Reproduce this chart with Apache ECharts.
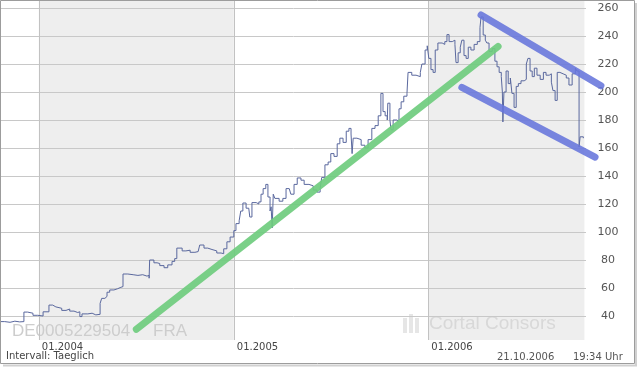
<!DOCTYPE html>
<html><head><meta charset="utf-8">
<script src="https://cdn.jsdelivr.net/npm/echarts@6/dist/echarts.min.js"></script>
<style>html,body{margin:0;padding:0;background:#fff}#c{width:640px;height:370px}</style>
</head><body><div id="c"></div>
<script>
// ---- data ----
const dates = [
'2003-10-22','2003-10-29','2003-11-08','2003-11-17','2003-11-26','2003-12-04','2003-12-11','2003-12-21','2003-12-30',
'2004-01-09','2004-01-20','2004-01-27','2004-02-02','2004-02-13','2004-02-21','2004-02-28','2004-03-07','2004-03-14',
'2004-03-18','2004-03-22','2004-04-02','2004-04-10','2004-04-17','2004-04-25','2004-04-28','2004-05-04','2004-05-08',
'2004-05-13','2004-05-21','2004-05-28','2004-06-03','2004-06-07','2004-06-16','2004-06-26','2004-07-05','2004-07-14',
'2004-07-22','2004-07-26','2004-07-27','2004-08-04','2004-08-10','2004-08-15','2004-08-23','2004-08-30','2004-09-07',
'2004-09-12','2004-09-16','2004-09-26','2004-10-03','2004-10-11','2004-10-20','2004-10-26','2004-10-29','2004-11-06',
'2004-11-13','2004-11-21','2004-11-30','2004-12-08','2004-12-13','2004-12-19','2004-12-25','2005-01-01','2005-01-05',
'2005-01-11','2005-01-14','2005-01-18','2005-01-24','2005-01-29','2005-01-31','2005-02-04','2005-02-12','2005-02-17',
'2005-02-21','2005-02-25','2005-03-02','2005-03-06','2005-03-10','2005-03-12','2005-03-14','2005-03-16','2005-03-19',
'2005-03-27','2005-04-03','2005-04-09','2005-04-15','2005-04-18','2005-04-24','2005-04-30','2005-05-07','2005-05-13',
'2005-05-22','2005-05-30','2005-06-06','2005-06-12','2005-06-15','2005-06-21','2005-06-27','2005-07-02','2005-07-08',
'2005-07-14','2005-07-19','2005-07-25','2005-07-31','2005-08-05','2005-08-09','2005-08-11','2005-08-13','2005-08-20',
'2005-08-28','2005-09-04','2005-09-10','2005-09-17','2005-09-23','2005-09-29','2005-10-04','2005-10-08','2005-10-12',
'2005-10-16','2005-10-17','2005-10-21','2005-10-23','2005-10-27','2005-11-03','2005-11-07','2005-11-11','2005-11-16',
'2005-11-22','2005-11-24','2005-12-01','2005-12-09','2005-12-17','2005-12-20','2005-12-26','2005-12-30','2006-01-02',
'2006-01-06','2006-01-10','2006-01-14','2006-01-19','2006-01-27','2006-02-01','2006-02-05','2006-02-09','2006-02-15',
'2006-02-20','2006-02-22','2006-02-26','2006-03-02','2006-03-05','2006-03-09','2006-03-13','2006-03-17','2006-03-22',
'2006-03-28','2006-04-03','2006-04-08','2006-04-10','2006-04-14','2006-04-18','2006-04-21','2006-04-25','2006-05-01',
'2006-05-06','2006-05-10','2006-05-14','2006-05-18','2006-05-20','2006-05-21','2006-05-23','2006-05-27','2006-05-31',
'2006-06-04','2006-06-07','2006-06-11','2006-06-15','2006-06-19','2006-06-24','2006-06-30','2006-07-04','2006-07-07',
'2006-07-11','2006-07-15','2006-07-19','2006-07-24','2006-07-30','2006-08-05','2006-08-10','2006-08-16','2006-08-20',
'2006-08-23','2006-08-27','2006-08-31','2006-09-05','2006-09-11','2006-09-17','2006-09-22','2006-09-28','2006-10-04',
'2006-10-07','2006-10-11','2006-10-13','2006-10-19'
];
const prices = [
36,35.5,36.3,35.8,36,42.8,42,40.5,40,
43,47.8,46.5,45.5,44,45,43.5,42.5,43,
39.6,41.5,42,40.8,41.2,49,52.6,54,57,
58.6,59.5,60.5,61,70,69.5,69,69.5,68.5,
69,67,80,78,77.5,76,74.5,76.5,79,
81,88.5,86.5,87,85.5,86,87,90.7,88.5,
87.5,86.5,85,84.5,88,93,96.4,101,106,
108,115,120.7,117,116,110.7,121,120,121.5,
127,131,134,125,115,118,103,127,124,
122,124,131,132,127,134,138.6,137,134,
133,130,128.5,131,139,148,150,156,154,
163,167,164,172,174,170,156,167,166,
162,160,166,174,176,183,199,186,183,
180,192,180,173,180,179,188,193,197,
199,214,212,211,214,220,230,233,224,
216,214,230,235,234,236,241,236,237,
234,221,228,232,237,226,224,232,230,
234,236,246,253.6,240.7,237,235,229,231,
222,218,214,211,200,178.6,200,215,206,
210,199,189,204,206,208,209,220,224,
215,211,217,212,209,214,212,213,207,
201,194,214,213,212,210,205,213,217,
215,160.7,168,167
];
const yTicks = [40,60,80,100,120,140,160,180,200,220,240,260];
const xTicks = ['2004-01-01','2005-01-01','2006-01-01'];
const xRange = ['2003-10-22','2006-10-24'];
const shadedYears = [['2004-01-01','2005-01-01'],['2006-01-01','2006-10-21']];
// trend lines: [startDate, startValue, endDate, endValue]
const trendGreen = ['2004-07-02', 30.5, '2006-05-12', 232.5];
const trendUpper = ['2006-04-10', 255, '2006-11-21', 204.5];
const trendLower = ['2006-03-05', 203.3, '2006-11-10', 153.5];

const FONT = 'DejaVu Sans';
const t = d => +echarts.time.parse(d);
const xTickVals = xTicks.map(t);
const priceData = dates.map((d, i) => [t(d), prices[i]]);
const seg = (a, color, op) => ({value: [t(a[0]), a[1], t(a[2]), a[3]], color: color, op: op});
const trendItems = [
  seg(trendGreen, '#6fcc7e', 0.92),
  seg(trendUpper, '#6675dc', 0.88),
  seg(trendLower, '#6675dc', 0.88)
];

const chart = echarts.init(document.getElementById('c'), null, {renderer: 'canvas'});
chart.setOption({
  animation: false,
  backgroundColor: '#ffffff',
  grid: {left: 1, right: 54, top: 1, bottom: 30},
  xAxis: {
    type: 'value', min: t(xRange[0]), max: t(xRange[1]), z: 2,
    axisLine: {show: false},
    axisTick: {show: false, customValues: xTickVals},
    splitLine: {show: true, lineStyle: {color: '#c2c2c2', width: 1}},
    axisLabel: {
      customValues: xTickVals, align: 'left', margin: 2, color: '#444',
      fontFamily: FONT, fontSize: 10, padding: [0, 0, 0, 3],
      formatter: v => echarts.time.format(v, '{MM}.{yyyy}', false)
    }
  },
  yAxis: {
    type: 'value', position: 'right', min: 22.86, max: 265, z: 2,
    axisLine: {show: false},
    axisTick: {show: false, customValues: yTicks},
    splitLine: {show: true, lineStyle: {color: '#c8c8c8', width: 1}},
    axisLabel: {customValues: yTicks, align: 'center', margin: 22, color: '#555', fontFamily: FONT, fontSize: 11}
  },
  series: [
    {
      type: 'line', data: [], z: 1, silent: true,
      markArea: {
        silent: true, z: 1,
        itemStyle: {color: '#eeeeee'},
        data: shadedYears.map(r => [{xAxis: t(r[0])}, {xAxis: t(r[1])}])
      }
    },
    {
      type: 'line', step: 'end', data: priceData, showSymbol: false, symbol: 'none', z: 3,
      lineStyle: {color: '#5a689e', width: 1}
    },
    {
      type: 'custom', z: 5, silent: true, clip: false,
      encode: {x: [0, 2], y: [1, 3]},
      data: trendItems,
      renderItem: (params, api) => {
        const p1 = api.coord([api.value(0), api.value(1)]);
        const p2 = api.coord([api.value(2), api.value(3)]);
        const it = trendItems[params.dataIndex];
        return {
          type: 'line',
          shape: {x1: p1[0], y1: p1[1], x2: p2[0], y2: p2[1]},
          style: {stroke: it.color, lineWidth: 7, lineCap: 'round', opacity: it.op}
        };
      }
    }
  ],
  graphic: [
    {type: 'text', x: 12, y: 331, z: 1.5, silent: true,
      style: {text: 'DE0005229504', font: '17px "Liberation Sans"', fill: '#cdcdcd', verticalAlign: 'middle'}},
    {type: 'text', x: 153, y: 331, z: 1.5, silent: true,
      style: {text: 'FRA', font: '17px "Liberation Sans"', fill: '#cdcdcd', verticalAlign: 'middle'}},
    {type: 'rect', z: 1.5, silent: true, shape: {x: 403, y: 318, width: 4, height: 15}, style: {fill: '#e6e6e6'}},
    {type: 'rect', z: 1.5, silent: true, shape: {x: 409, y: 314, width: 4, height: 19}, style: {fill: '#e6e6e6'}},
    {type: 'rect', z: 1.5, silent: true, shape: {x: 415, y: 318, width: 4, height: 15}, style: {fill: '#e6e6e6'}},
    {type: 'text', x: 429, y: 324, z: 1.5, silent: true,
      style: {text: 'Cortal Consors', font: '19px "Liberation Sans"', fill: '#d8d8d8', verticalAlign: 'middle'}},
    {type: 'text', x: 6, y: 356, z: 6, silent: true,
      style: {text: 'Intervall: Taeglich', font: '10px "DejaVu Sans"', fill: '#444', verticalAlign: 'middle'}},
    {type: 'text', x: 497, y: 357, z: 6, silent: true,
      style: {text: '21.10.2006', font: '10px "DejaVu Sans"', fill: '#555', verticalAlign: 'middle'}},
    {type: 'text', x: 573, y: 357, z: 6, silent: true,
      style: {text: '19:34 Uhr', font: '10px "DejaVu Sans"', fill: '#555', verticalAlign: 'middle'}},
    {type: 'rect', z: 10, silent: true, shape: {x: 0.5, y: 0.5, width: 634, height: 363},
      style: {fill: 'none', stroke: '#9c9c9c', lineWidth: 1}},
    {type: 'line', z: 10, silent: true, shape: {x1: 636, y1: 3, x2: 636, y2: 365}, style: {stroke: '#d0d0d0', lineWidth: 2}},
    {type: 'line', z: 10, silent: true, shape: {x1: 3, y1: 365.5, x2: 637, y2: 365.5}, style: {stroke: '#d0d0d0', lineWidth: 2}}
  ]
});
</script>
</body></html>
